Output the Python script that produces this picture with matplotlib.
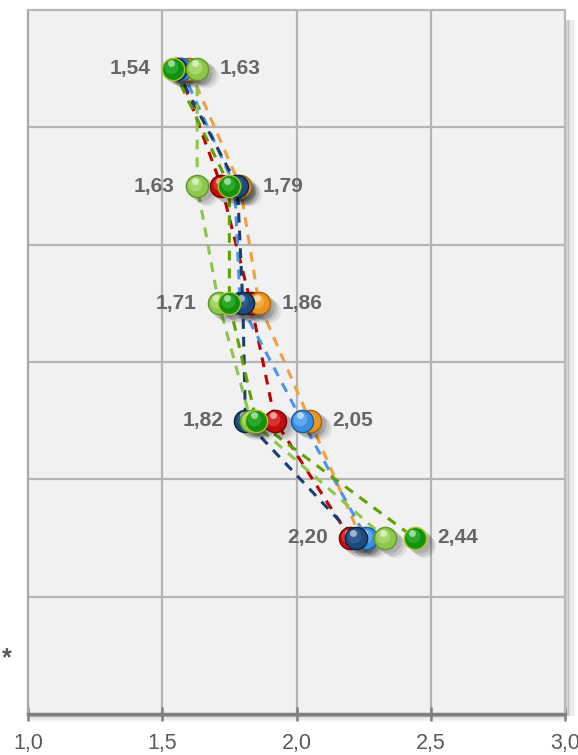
import matplotlib
matplotlib.use("Agg")
import matplotlib.pyplot as plt
import matplotlib.transforms as mtransforms
import numpy as np

plt.rcParams['font.family'] = ['Liberation Sans', 'DejaVu Sans']

# ---- data ----
categories = ['', '', '', '', '', '*']
series_names = ['Red', 'Orange', 'Light blue', 'Dark blue', 'Light green', 'Dark green']
red        = [1.56, 1.72, 1.83, 1.92, 2.20]
orange     = [1.60, 1.79, 1.86, 2.05, 2.24]
light_blue = [1.57, 1.77, 1.79, 2.02, 2.26]
dark_blue  = [1.55, 1.78, 1.80, 1.81, 2.22]
light_green = [1.63, 1.63, 1.71, 1.83, 2.33]
dark_green = [1.54, 1.75, 1.75, 1.85, 2.44]
min_labels = ['1,54', '1,63', '1,71', '1,82', '2,20']
max_labels = ['1,63', '1,79', '1,86', '2,05', '2,44']
x_ticks = [1.0, 1.5, 2.0, 2.5, 3.0]
x_ticklabels = ['1,0', '1,5', '2,0', '2,5', '3,0']

series = [red, orange, light_blue, dark_blue, light_green, dark_green]
ball_colors = ['#c40d0d', '#e8941f', '#3a8de0', '#1d4a7a', '#8cc64a', '#13900f']
edge_colors = ['#7a0000', '#a8650a', '#1d5aa0', '#0c2440', '#5a9a28', '#a8c820']
line_colors = ['#c00000', '#f0a040', '#4a95e8', '#1a3f6f', '#8cc64a', '#62a000']
hi_colors = ['#e85050', '#f6c060', '#80bdf5', '#3a6ea8', '#bfe58a', '#40c040']

W, H = 578, 755
fig = plt.figure(figsize=(W / 100, H / 100), dpi=100)
fig.patch.set_facecolor('white')
left, right, top, bottom = 28, 565, 10, 714
ax = fig.add_axes([left / W, 1 - bottom / H, (right - left) / W, (bottom - top) / H])
ax.set_facecolor('#f1f1f1')

ax.set_xlim(1.0, 3.0)
ax.set_ylim(len(categories) - 0.5, -0.5)

# grid
for gx in x_ticks[1:-1]:
    ax.axvline(gx, color='#b4b4b4', lw=1.6, zorder=1)
for gy in np.arange(0.5, len(categories) - 0.5, 1.0):
    ax.axhline(gy, color='#b4b4b4', lw=1.6, zorder=1)

for s in ['top', 'right']:
    ax.spines[s].set_color('#b8b8b8')
    ax.spines[s].set_linewidth(1.6)
ax.spines['left'].set_color('#a8a8a8')
ax.spines['left'].set_linewidth(1.6)
ax.spines['bottom'].set_color('#7f7f7f')
ax.spines['bottom'].set_linewidth(2.5)

ax.set_xticks(x_ticks)
ax.set_xticklabels(x_ticklabels, fontsize=15.5, color='#595959')
ax.tick_params(axis='x', direction='inout', length=10, width=1.8, color='#7f7f7f', pad=9)
ax.set_yticks(range(len(categories)))
ax.set_yticklabels(categories, fontsize=18, color='#595959', fontweight='bold')
ax.tick_params(axis='y', length=0, pad=12)

# shadow under bottom axis and right side (decoration)
for i, a in enumerate([0.18, 0.12, 0.07, 0.03]):
    off = mtransforms.offset_copy(ax.transAxes, fig=fig, x=0, y=-(i + 1) * 1.2, units='points')
    ax.plot([0.005, 1.0], [0, 0], color='black', alpha=a, lw=1.5, transform=off, clip_on=False, zorder=0)
    off2 = mtransforms.offset_copy(ax.transAxes, fig=fig, x=(i + 1) * 1.6, y=0, units='points')
    ax.plot([1.0, 1.0], [0.0, 0.985], color='black', alpha=a, lw=2, transform=off2, clip_on=False, zorder=0)

ypos = np.arange(len(red))

# dashed lines
for vals, lc in zip(series, line_colors):
    ax.plot(vals, ypos, color=lc, lw=2.2, ls=(0, (3.2, 2.6)), zorder=3)

# shadows
for vals in series:
    for k, (a, d) in enumerate([(0.08, 7), (0.10, 5), (0.12, 3)]):
        tr = mtransforms.offset_copy(ax.transData, fig=fig, x=d, y=-d * 0.8, units='points')
        ax.plot(vals, ypos, 'o', ms=16.5 + k * 0.5, color='black', alpha=a, mec='none', transform=tr, zorder=4)

# balls
for j, (vals, bc, ec, hc) in enumerate(zip(series, ball_colors, edge_colors, hi_colors)):
    z = 5 + j
    ax.plot(vals, ypos, 'o', ms=16, color=bc, mec=ec, mew=1.0, zorder=z)
    tr1 = mtransforms.offset_copy(ax.transData, fig=fig, x=-1.3, y=1.5, units='points')
    ax.plot(vals, ypos, 'o', ms=10, color=hc, alpha=0.55, mec='none', transform=tr1, zorder=z + 0.1)
    tr2 = mtransforms.offset_copy(ax.transData, fig=fig, x=-1.6, y=3.8, units='points')
    ax.plot(vals, ypos, 'o', ms=5, color='white', alpha=0.55, mec='none', transform=tr2, zorder=z + 0.2)

# min / max labels
mins = np.min(np.array(series), axis=0)
maxs = np.max(np.array(series), axis=0)
for i in range(len(ypos)):
    ax.annotate(min_labels[i], (mins[i], ypos[i]), xytext=(-16, 0), textcoords='offset points',
                ha='right', va='center', fontsize=15, fontweight='bold', color='#666666', zorder=20)
    ax.annotate(max_labels[i], (maxs[i], ypos[i]), xytext=(16, 0), textcoords='offset points',
                ha='left', va='center', fontsize=15, fontweight='bold', color='#666666', zorder=20)

fig.savefig('out.png', dpi=100)
